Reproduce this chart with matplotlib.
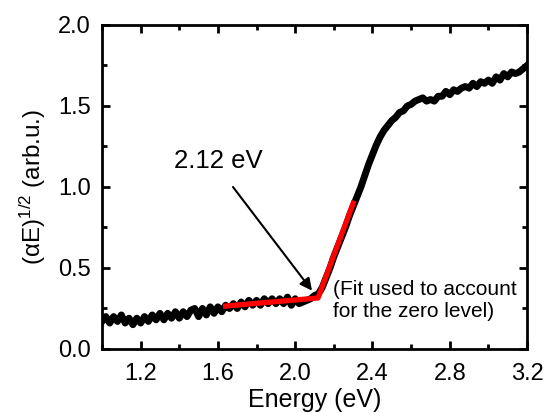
import numpy as np
import matplotlib
matplotlib.use('Agg')
import matplotlib.pyplot as plt

plt.rcParams['font.family'] = ['Liberation Sans', 'DejaVu Sans']
plt.rcParams['mathtext.fontset'] = 'custom'
plt.rcParams['mathtext.rm'] = 'Liberation Sans'
plt.rcParams['mathtext.it'] = 'Liberation Sans:italic'

energy = [1.00, 1.02, 1.04, 1.06, 1.08, 1.10, 1.12, 1.14, 1.16, 1.18,
          1.20, 1.22, 1.24, 1.26, 1.28, 1.30, 1.32, 1.34, 1.36, 1.38,
          1.40, 1.42, 1.44, 1.46, 1.48, 1.50, 1.52, 1.54, 1.56, 1.58,
          1.60, 1.62, 1.64, 1.66, 1.68, 1.70, 1.72, 1.74, 1.76, 1.78,
          1.80, 1.82, 1.84, 1.86, 1.88, 1.90, 1.92, 1.94, 1.96, 1.98,
          2.00, 2.02, 2.04, 2.06, 2.08, 2.10, 2.12, 2.14, 2.16, 2.18,
          2.20, 2.22, 2.24, 2.26, 2.28, 2.30, 2.32, 2.34, 2.36, 2.38,
          2.40, 2.42, 2.44, 2.46, 2.48, 2.50, 2.52, 2.54, 2.56, 2.58,
          2.60, 2.62, 2.64, 2.66, 2.68, 2.70, 2.72, 2.74, 2.76, 2.78,
          2.80, 2.82, 2.84, 2.86, 2.88, 2.90, 2.92, 2.94, 2.96, 2.98,
          3.00, 3.02, 3.04, 3.06, 3.08, 3.10, 3.12, 3.14, 3.16, 3.18, 3.20]
signal = [0.17, 0.20, 0.16, 0.20, 0.17, 0.21, 0.16, 0.19, 0.15, 0.19,
          0.16, 0.20, 0.17, 0.21, 0.18, 0.22, 0.18, 0.22, 0.19, 0.23,
          0.19, 0.23, 0.20, 0.24, 0.25, 0.20, 0.25, 0.21, 0.26, 0.22,
          0.26, 0.23, 0.27, 0.25, 0.28, 0.25, 0.29, 0.26, 0.30, 0.27,
          0.30, 0.27, 0.31, 0.28, 0.31, 0.28, 0.31, 0.28, 0.32, 0.27,
          0.31, 0.28, 0.29, 0.30, 0.31, 0.33, 0.34, 0.38, 0.44, 0.50,
          0.57, 0.63, 0.69, 0.75, 0.82, 0.88, 0.94, 1.00, 1.07, 1.14,
          1.20, 1.26, 1.31, 1.35, 1.38, 1.41, 1.43, 1.46, 1.47, 1.50,
          1.51, 1.53, 1.54, 1.55, 1.53, 1.54, 1.53, 1.56, 1.56, 1.59,
          1.57, 1.60, 1.59, 1.61, 1.62, 1.61, 1.64, 1.62, 1.65, 1.64,
          1.66, 1.64, 1.68, 1.66, 1.70, 1.68, 1.71, 1.70, 1.71, 1.73, 1.75]

# linear fits (red)
fit_energy = [1.64, 2.118, 2.30]
fit_signal = [0.265, 0.315, 0.90]

fig = plt.figure(figsize=(5.47, 4.13), dpi=100)
ax = fig.add_axes([0.1865, 0.155, 0.777, 0.7845])

ax.plot(energy, signal, color='black', lw=5, solid_joinstyle='round')
ax.plot(fit_energy, fit_signal, color='red', lw=3.8)

ax.annotate('', xy=(2.087, 0.36), xytext=(1.678, 1.0),
            arrowprops=dict(arrowstyle='-|>', color='black', lw=1.5,
                            mutation_scale=18, shrinkA=0, shrinkB=0))
ax.text(1.60, 1.16, '2.12 eV', fontsize=18.5, ha='center', va='center')
ax.text(2.196, 0.30, '(Fit used to account\nfor the zero level)',
        fontsize=15, ha='left', va='center', linespacing=1.25)

ax.set_xlim(1.0, 3.2)
ax.set_ylim(0.0, 2.0)
ax.set_xticks([1.2, 1.6, 2.0, 2.4, 2.8, 3.2])
ax.set_xticks(np.arange(1.0, 3.21, 0.2), minor=True)
ax.set_yticks([0.0, 0.5, 1.0, 1.5, 2.0])
ax.set_yticks(np.arange(0.0, 2.01, 0.25), minor=True)
ax.tick_params(which='both', direction='in', top=True, right=True,
               labelsize=17, width=2)
ax.tick_params(axis='x', which='major', pad=10)
ax.tick_params(axis='y', which='major', pad=8)
ax.tick_params(which='major', length=6)
ax.tick_params(which='minor', length=3.5)
for s in ax.spines.values():
    s.set_linewidth(2)

ax.set_xlabel('Energy (eV)', fontsize=18, labelpad=2)
ax.set_ylabel(r'(αE)$^{1/2}$ (arb.u.)', fontsize=17.5, labelpad=7)

fig.savefig('out.png', dpi=100)
